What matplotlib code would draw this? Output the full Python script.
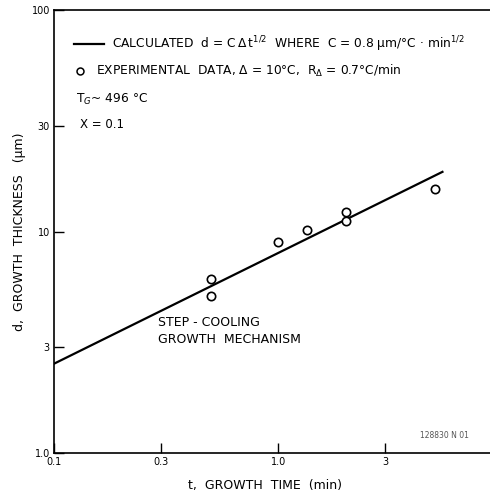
import numpy as np
import matplotlib
matplotlib.use("Agg")
import matplotlib.pyplot as plt

# Data
t_exp = [0.5, 0.5, 1.0, 1.35, 2.0, 2.0, 5.0]
d_exp = [6.1, 5.1, 9.0, 10.2, 12.2, 11.1, 15.5]
C_delta = 8.0          # C * Delta = 0.8 um/(C min^1/2) * 10 C
t_line = np.logspace(np.log10(0.1), np.log10(5.4), 100)
d_line = C_delta * np.sqrt(t_line)

x_ticks = [0.1, 0.3, 1.0, 3]
x_ticklabels = ["0.1", "0.3", "1.0", "3"]
y_ticks = [1, 3, 10, 30, 100]
y_ticklabels = ["1.0", "3", "10", "30", "100"]

plt.rcParams['font.family'] = ['DejaVu Sans']
fig = plt.figure(figsize=(4.9, 4.97), dpi=100)
ax = fig.add_axes([54/490, 44/497, 1 - 54/490, 443/497])
ax.set_xscale('log')
ax.set_yscale('log')
ax.set_xlim(0.1, 8.8)
ax.set_ylim(1, 100)

ax.plot(t_line, d_line, color='black', lw=1.6)
ax.plot(t_exp, d_exp, 'o', mfc='white', mec='black', ms=6, mew=1.2)

ax.set_xticks(x_ticks)
ax.set_xticklabels(x_ticklabels, fontsize=7)
ax.set_yticks(y_ticks)
ax.set_yticklabels(y_ticklabels, fontsize=7)
ax.minorticks_off()
ax.tick_params(direction='in', length=7, width=1, pad=3)
ax.spines['right'].set_visible(False)
for s in ['left', 'bottom', 'top']:
    ax.spines[s].set_linewidth(1.2)

fig.text(265/490, (497-486)/497, "t,  GROWTH  TIME  (min)", fontsize=9,
         ha='center', va='center')
fig.text(20/490, (497-232)/497, "d,  GROWTH  THICKNESS   (μm)", fontsize=9,
         ha='center', va='center', rotation=90)

# legend-like annotations (axes fraction)
def fx(px):
    return (px - 54) / 436
def fy(py):
    return (453 - py) / 443

ax.plot([fx(74), fx(104)], [fy(44), fy(44)], color='black', lw=1.6, transform=ax.transAxes)
ax.text(fx(112), fy(44), r"CALCULATED  d = C$\,\Delta\,$t$^{1/2}$  WHERE  C = 0.8 μm/°C · min$^{1/2}$",
        transform=ax.transAxes, fontsize=8.8, va='center', ha='left')
ax.plot([fx(80)], [fy(71)], 'o', mfc='white', mec='black', ms=5, mew=1.1, transform=ax.transAxes)
ax.text(fx(96), fy(71), r"EXPERIMENTAL  DATA, Δ = 10°C,  R$_\Delta$ = 0.7°C/min",
        transform=ax.transAxes, fontsize=8.8, va='center', ha='left')
ax.text(fx(76), fy(99), r"T$_G$~ 496 °C", transform=ax.transAxes, fontsize=8.8, va='center', ha='left')
ax.text(fx(80), fy(125), "X = 0.1", transform=ax.transAxes, fontsize=8.5, va='center', ha='left')

ax.text(fx(158), fy(331), "STEP - COOLING\nGROWTH  MECHANISM", transform=ax.transAxes,
        fontsize=9, va='center', ha='left', linespacing=1.4)
ax.text(fx(420), fy(436), "128830 N 01", transform=ax.transAxes, fontsize=5.5,
        va='center', ha='left', color='#555555')

fig.savefig("out.png", dpi=100)
